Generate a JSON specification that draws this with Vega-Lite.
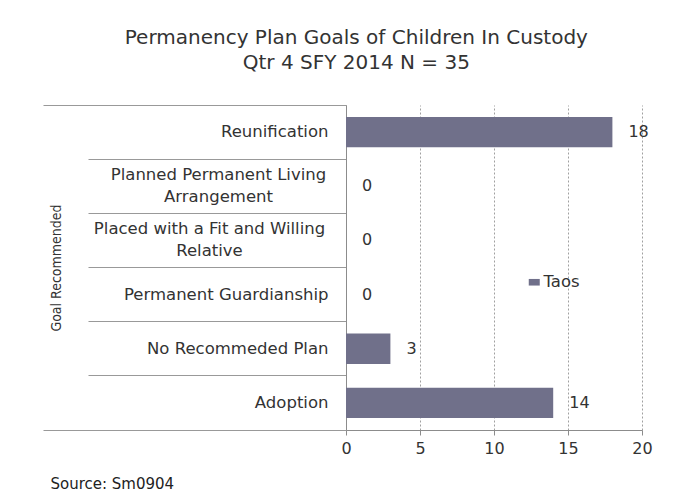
{
  "$schema": "https://vega.github.io/schema/vega-lite/v6.json",
  "autosize": {"type": "none"},
  "padding": {"left": 346, "top": 105, "right": 43, "bottom": 61},
  "width": 296,
  "height": 325,
  "background": "white",
  "title": {
    "text": ["Permanency Plan Goals of Children In Custody", "Qtr 4 SFY 2014 N = 35"],
    "font": "DejaVu Sans",
    "fontSize": 20,
    "fontWeight": "normal",
    "color": "#333333",
    "lineHeight": 25,
    "anchor": "middle",
    "frame": "bounds",
    "offset": 24,
    "dx": 9
  },
  "data": {
    "values": [
      {"goal": "Reunification", "count": 18, "series": "Taos"},
      {"goal": "Planned Permanent Living Arrangement", "count": 0, "series": "Taos"},
      {"goal": "Placed with a Fit and Willing Relative", "count": 0, "series": "Taos"},
      {"goal": "Permanent Guardianship", "count": 0, "series": "Taos"},
      {"goal": "No Recommeded Plan", "count": 3, "series": "Taos"},
      {"goal": "Adoption", "count": 14, "series": "Taos"}
    ]
  },
  "encoding": {
    "y": {
      "field": "goal",
      "type": "nominal",
      "sort": null,
      "scale": {"padding": 0},
      "axis": {
        "title": "Goal Recommended",
        "titleFont": "DejaVu Sans Condensed, Liberation Sans",
        "titleFontSize": 14,
        "titleFontWeight": "normal",
        "titleColor": "#333333",
        "titleX": -290,
        "titleBaseline": "middle",
        "bandPosition": 1,
        "tickExtra": true,
        "tickSize": {"condition": {"test": "datum.value == 'Adoption' || datum.index < 0", "value": 303}, "value": 258},
        "tickColor": "#999999",
        "domainColor": "#8c8c8c",
        "labelPadding": {"condition": [
          {"test": "datum.value == 'Adoption'", "value": -285},
          {"test": "datum.value == 'Planned Permanent Living Arrangement'", "value": -130},
          {"test": "datum.value == 'Placed with a Fit and Willing Relative'", "value": -121}
        ], "value": -240},
        "labelAlign": {"condition": {"test": "datum.value == 'Planned Permanent Living Arrangement' || datum.value == 'Placed with a Fit and Willing Relative'", "value": "center"}, "value": "right"},
        "labelFont": "DejaVu Sans",
        "labelFontSize": 16.5,
        "labelColor": "#333333",
        "labelLineHeight": 22,
        "labelLimit": 400,
        "labelOffset": {"condition": {"test": "datum.value == 'Planned Permanent Living Arrangement' || datum.value == 'Placed with a Fit and Willing Relative'", "value": -11}, "value": 0},
        "labelExpr": "datum.value == 'Planned Permanent Living Arrangement' ? ['Planned Permanent Living', 'Arrangement'] : datum.value == 'Placed with a Fit and Willing Relative' ? ['Placed with a Fit and Willing', 'Relative'] : datum.value"
      }
    },
    "x": {
      "field": "count",
      "type": "quantitative",
      "scale": {"domain": [0, 20], "nice": false},
      "axis": {
        "values": [0, 5, 10, 15, 20],
        "grid": true,
        "gridDash": [2, 2],
        "gridColor": "#a0a0a0",
        "domainColor": "#8c8c8c",
        "tickColor": "#8c8c8c",
        "tickSize": 5,
        "labelPadding": 5,
        "labelFlush": false,
        "labelFont": "DejaVu Sans",
        "labelFontSize": 16,
        "labelColor": "#333333",
        "title": "Source: Sm0904",
        "titleFont": "DejaVu Sans",
        "titleFontSize": 15,
        "titleFontWeight": "normal",
        "titleColor": "#222222",
        "titleX": -296,
        "titleY": 53,
        "titleAlign": "left",
        "titleBaseline": "middle"
      }
    }
  },
  "layer": [
    {
      "mark": {"type": "bar", "height": {"band": 0.56}},
      "encoding": {
        "color": {
          "field": "series",
          "type": "nominal",
          "scale": {"range": ["#70708a"]},
          "legend": {
            "title": null,
            "orient": "none",
            "legendX": 180,
            "legendY": 169,
            "symbolType": "M-1,-0.6H1V0.6H-1Z",
            "symbolSize": 121,
            "symbolStrokeWidth": 0,
            "labelFont": "DejaVu Sans",
            "labelFontSize": 16.5,
            "labelColor": "#333333",
            "labelOffset": 1
          }
        }
      }
    },
    {
      "mark": {"type": "text", "align": "left", "baseline": "middle", "dx": 16, "font": "DejaVu Sans", "fontSize": 16, "color": "#333333"},
      "encoding": {
        "text": {"field": "count", "type": "quantitative"}
      }
    }
  ],
  "config": {
    "view": {"stroke": null}
  }
}
